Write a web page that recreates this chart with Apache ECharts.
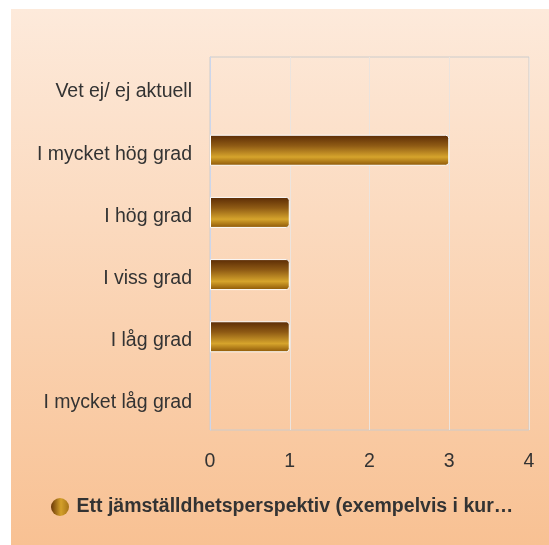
<!DOCTYPE html>
<html>
<head>
<meta charset="utf-8">
<script src="https://cdn.jsdelivr.net/npm/echarts@6/dist/echarts.min.js"></script>
<style>
html,body{margin:0;padding:0;background:#fff;}
#chart{width:549px;height:545px;}
</style>
</head>
<body>
<div id="chart"></div>
<script>
const categories = ["Vet ej/ ej aktuell", "I mycket hög grad", "I hög grad", "I viss grad", "I låg grad", "I mycket låg grad"];
const values = [0, 3, 1, 1, 1, 0];
const seriesName = "Ett jämställdhetsperspektiv (exempelvis i kur…";
const xTicks = [0, 1, 2, 3, 4];

const FONT = '"Liberation Sans", Arial, sans-serif';
const chart = echarts.init(document.getElementById('chart'), null, {renderer: 'canvas'});

const barGradient = new echarts.graphic.LinearGradient(0, 0, 0, 1, [
  {offset: 0, color: '#5a2a05'},
  {offset: 0.35, color: '#8e5a14'},
  {offset: 0.72, color: '#d6a42c'},
  {offset: 1, color: '#8a5406'}
]);
const legendGradient = new echarts.graphic.LinearGradient(0, 0, 1, 0, [
  {offset: 0, color: '#6a3808'},
  {offset: 0.55, color: '#d4a02a'},
  {offset: 1, color: '#a87418'}
]);

chart.setOption({
  backgroundColor: '#ffffff',
  animation: false,
  graphic: [{
    type: 'rect',
    z: -10,
    silent: true,
    shape: {x: 11, y: 9, width: 538, height: 536},
    style: {
      fill: new echarts.graphic.LinearGradient(0, 0, 0, 1, [
        {offset: 0, color: '#fdeadb'},
        {offset: 1, color: '#f8c193'}
      ])
    }
  }],
  grid: {
    left: 210, right: 20, top: 57, bottom: 115,
    show: true, borderColor: '#cccccc', borderWidth: 1, backgroundColor: 'transparent'
  },
  legend: {
    left: 51, top: 497, padding: 0,
    itemWidth: 19, itemHeight: 18, itemGap: 10,
    icon: 'circle',
    textStyle: {fontFamily: FONT, fontSize: 19.5, fontWeight: 'bold', color: '#333333', padding: [0, 0, 0, 2]},
    data: [{name: seriesName, itemStyle: {color: legendGradient, borderWidth: 0}}]
  },
  xAxis: {
    type: 'value', min: xTicks[0], max: xTicks[xTicks.length - 1], interval: 1,
    axisLine: {show: false}, axisTick: {show: false},
    splitLine: {show: true, lineStyle: {color: '#ece4de', width: 1}},
    axisLabel: {fontFamily: FONT, fontSize: 19.5, color: '#333333', margin: 22}
  },
  yAxis: {
    type: 'category', data: categories, inverse: true,
    axisLine: {show: true, lineStyle: {color: '#ccd6eb', width: 1}},
    axisTick: {show: false},
    axisLabel: {
      margin: 18,
      formatter: v => '{a|' + v + '}',
      rich: {a: {fontFamily: FONT, fontSize: 19.5, color: '#333333', padding: [8, 0, 0, 0]}}
    }
  },
  series: [{
    name: seriesName,
    type: 'bar',
    data: values.map(v => v === 0 ? {value: v, itemStyle: {borderWidth: 0, opacity: 0}} : v),
    barWidth: 31,
    itemStyle: {color: barGradient, borderColor: '#ffffff', borderWidth: 1, borderRadius: [0, 3, 3, 0]}
  }]
});
</script>
</body>
</html>
